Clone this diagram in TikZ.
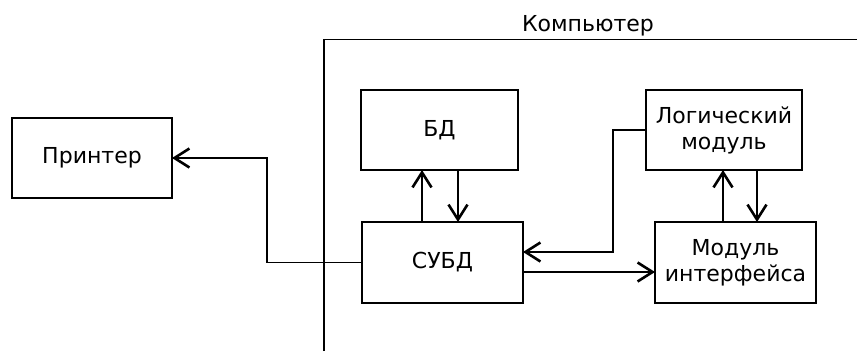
\documentclass[tikz,border=0pt]{standalone}
\usepackage{fontspec}
\setmainfont{DejaVu Sans}
\usetikzlibrary{arrows.meta}
\tikzset{
  txt/.style={font=\fontsize{22}{26}\selectfont},
  blk/.style={draw, line width=1.7pt, inner sep=0pt, outer sep=0pt, align=center, txt},
  arr/.style={line width=1.7pt, -{Straight Barb[length=15pt,width=19pt,line width=2.6pt]}},
  ln/.style={line width=1.7pt}
}
\begin{document}
\begin{tikzpicture}[x=1pt,y=-1pt]
\useasboundingbox (0,0) rectangle (857,351);
% computer frame
\coordinate (fb) at (324,351);
\coordinate (fc) at (324,39.5);
\coordinate (fr) at (857,39.5);
\draw[ln] (fb) -- (fc) -- (fr);
\node[txt, anchor=base] (comp) at (588,31.5) {Компьютер};
% blocks
\node[blk, minimum width=160pt, minimum height=80pt] (printer) at (92,158) {Принтер};
\node[blk, minimum width=157pt, minimum height=80pt] (bd) at (439.5,130) {БД};
\node[blk, minimum width=156pt, minimum height=80pt] (logic) at (724,130) {Логический\\модуль};
\node[blk, minimum width=161pt, minimum height=81pt] (subd) at (442.5,262.5) {СУБД};
\node[blk, minimum width=161pt, minimum height=81pt] (iface) at (735.5,262.5) {Модуль\\интерфейса};
% helper coordinates
\coordinate (t1) at (267,0);
\coordinate (t2) at (613,0);
\coordinate (a1) at (422,0);
\coordinate (a2) at (458,0);
\coordinate (b1) at (723,0);
\coordinate (b2) at (757,0);
\coordinate (c1) at (0,252);
\coordinate (c2) at (0,272);
% connectors
\draw[arr] (subd.west) -| (t1 |- printer.east) -- (printer.east);
\draw[arr] (subd.north -| a1) -- (bd.south -| a1);
\draw[arr] (bd.south -| a2) -- (subd.north -| a2);
\draw[arr] (iface.north -| b1) -- (logic.south -| b1);
\draw[arr] (logic.south -| b2) -- (iface.north -| b2);
\draw[arr] (logic.west) -| (t2 |- c1) -- (subd.east |- c1);
\draw[arr] (subd.east |- c2) -- (iface.west |- c2);
\end{tikzpicture}
\end{document}
